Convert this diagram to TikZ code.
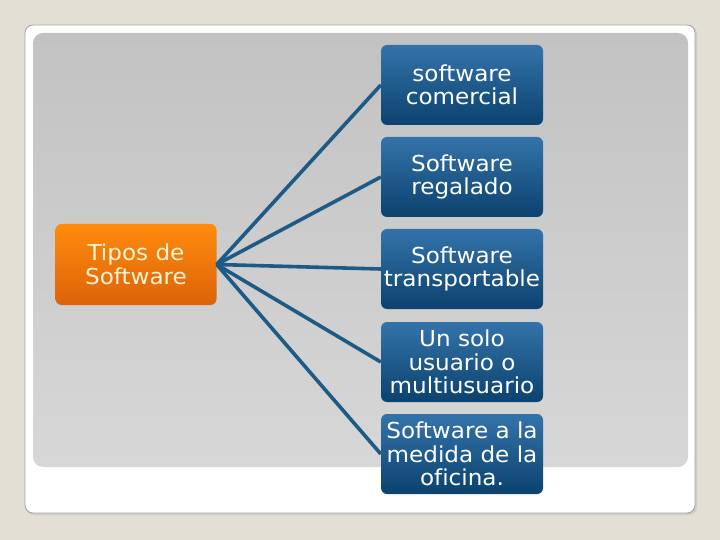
\documentclass[tikz,border=0pt]{standalone}
\usepackage{fontspec}
\setmainfont[Ligatures=NoCommon, FakeStretch=1.05]{DejaVu Sans}
\definecolor{pagebg}{HTML}{E4DFD4}
\definecolor{cardline}{HTML}{A3A29C}
\definecolor{panetop}{HTML}{C2C2C2}
\definecolor{panebot}{HTML}{D7D7D7}
\definecolor{orangetop}{HTML}{FF8B0C}
\definecolor{orangebot}{HTML}{DC630A}
\definecolor{orangetext}{HTML}{FFF3D2}
\definecolor{bluetop}{HTML}{3473AA}
\definecolor{bluebot}{HTML}{0B426E}
\definecolor{linkblue}{HTML}{1E5A86}
\tikzset{
  rootbox/.style={rounded corners=6pt, top color=orangetop, bottom color=orangebot,
    minimum width=161pt, minimum height=81pt, inner sep=1pt, align=center,
    text=orangetext, font=\fontsize{22}{24.5}\selectfont},
  leafbox/.style={rounded corners=6pt, top color=bluetop, bottom color=bluebot,
    minimum width=162pt, minimum height=80pt, inner sep=1pt, align=center,
    text=white, font=\fontsize{22}{23.5}\selectfont},
  link/.style={draw=linkblue, line width=3.6pt}
}
\begin{document}
\begin{tikzpicture}[x=1pt,y=-1pt]
\useasboundingbox (0,0) rectangle (720,540);
\fill[pagebg] (0,0) rectangle (720,540);
\fill[gray!40, rounded corners=8pt] (26,26) rectangle (697,515);
\filldraw[fill=white, draw=cardline, line width=0.8pt, rounded corners=8pt] (25,25) rectangle (695,513);
\shade[top color=panetop, bottom color=panebot, rounded corners=10pt] (33,33) rectangle (688,467);
\node[rootbox] (root) at (136,264.5) {Tipos de\\Software};
\node[leafbox] (b1) at (462,85) {software\\comercial};
\node[leafbox] (b2) at (462,177) {Software\\regalado};
\node[leafbox] (b3) at (462,269) {Software\\transportable};
\node[leafbox] (b4) at (462,362) {Un solo\\usuario o\\multiusuario};
\node[leafbox] (b5) at (462,454) {Software a la\\medida de la\\oficina.};
\foreach \b in {b1,b2,b3,b4,b5}{
  \draw[link] (root.east) -- (\b.west);
}
\end{tikzpicture}
\end{document}
